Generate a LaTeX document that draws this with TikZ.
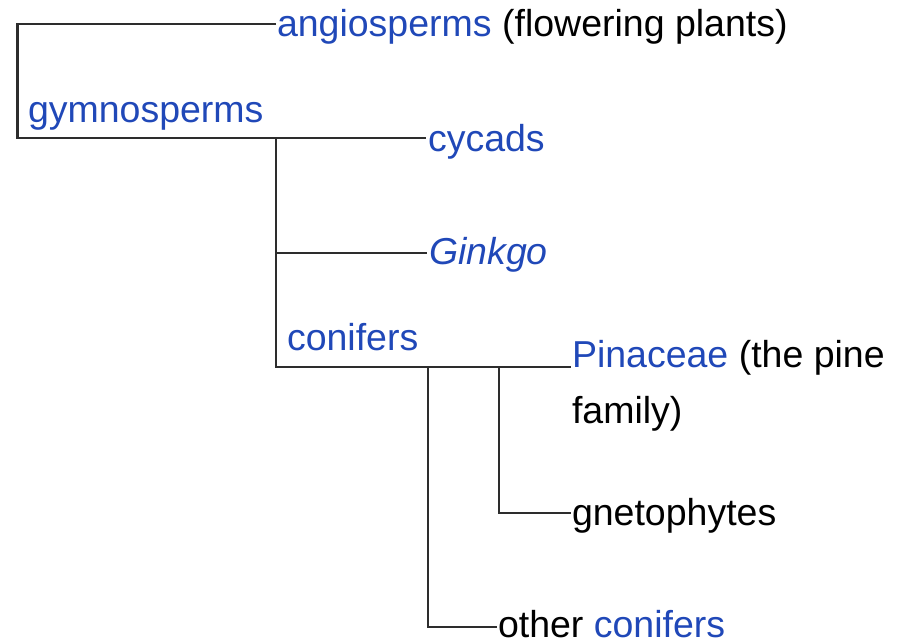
\documentclass[tikz,border=0pt]{standalone}
\usepackage{fontspec}
\setmainfont{Liberation Sans}
\usetikzlibrary{calc}
\definecolor{linkblue}{RGB}{32,72,184}
\definecolor{branch}{RGB}{45,45,45}
\begin{document}
\begin{tikzpicture}[x=1pt,y=-1pt,
  branchline/.style={draw=branch,line width=2.4pt},
  taxon/.style={anchor=base west,inner sep=0pt,outer sep=0pt,
    font=\fontsize{37.5}{56}\selectfont},
  link/.style={text=linkblue}]
\useasboundingbox (0,0) rectangle (905,643);

% branch points and branch tips
\coordinate (root)      at (17.5,24);
\coordinate (angioTip)  at (276,24);
\coordinate (gymBase)   at (17.5,138);
\coordinate (gymFork)   at (276,138);
\coordinate (cycadsTip) at (426,138);
\coordinate (ginkgoTip) at (427,253);
\coordinate (conFork)   at (276,367);
\coordinate (otherFork) at (428,367);
\coordinate (gnetFork)  at (499,367);
\coordinate (pinTip)    at (571,367);
\coordinate (gnetTip)   at (571,513);
\coordinate (otherTip)  at (497,627);

% taxon labels (a two-line node sits on the baseline of its last line)
\node[taxon] (angio) at ($(angioTip)+(1,12)$)
  {\textcolor{linkblue}{angiosperms} (flowering plants)};
\node[taxon,link] (gymno) at (28,122) {gymnosperms};
\node[taxon,link] (cycads) at ($(cycadsTip)+(2,13)$) {cycads};
\node[taxon,link] (ginkgo) at ($(ginkgoTip)+(2,11)$) {\itshape Ginkgo};
\node[taxon,link] (conifers) at (287,350) {conifers};
\node[taxon,align=left] (pinaceae) at ($(pinTip)+(1,56)$)
  {\textcolor{linkblue}{Pinaceae} (the pine\\family)};
\node[taxon] (gneto) at ($(gnetTip)+(1,12)$) {gnetophytes};
\node[taxon] (other) at ($(otherTip)+(1,10)$)
  {other \textcolor{linkblue}{conifers}};

% tree branches
\draw[branchline] (angioTip) -| (gymBase) -- (cycadsTip);
\draw[branchline] (gymFork) -- (conFork) -- (pinTip);
\draw[branchline] (gymFork |- ginkgoTip) -- (ginkgoTip);
\draw[branchline] (gnetFork) |- (gnetTip);
\draw[branchline] (otherFork) |- (otherTip);
\end{tikzpicture}
\end{document}
